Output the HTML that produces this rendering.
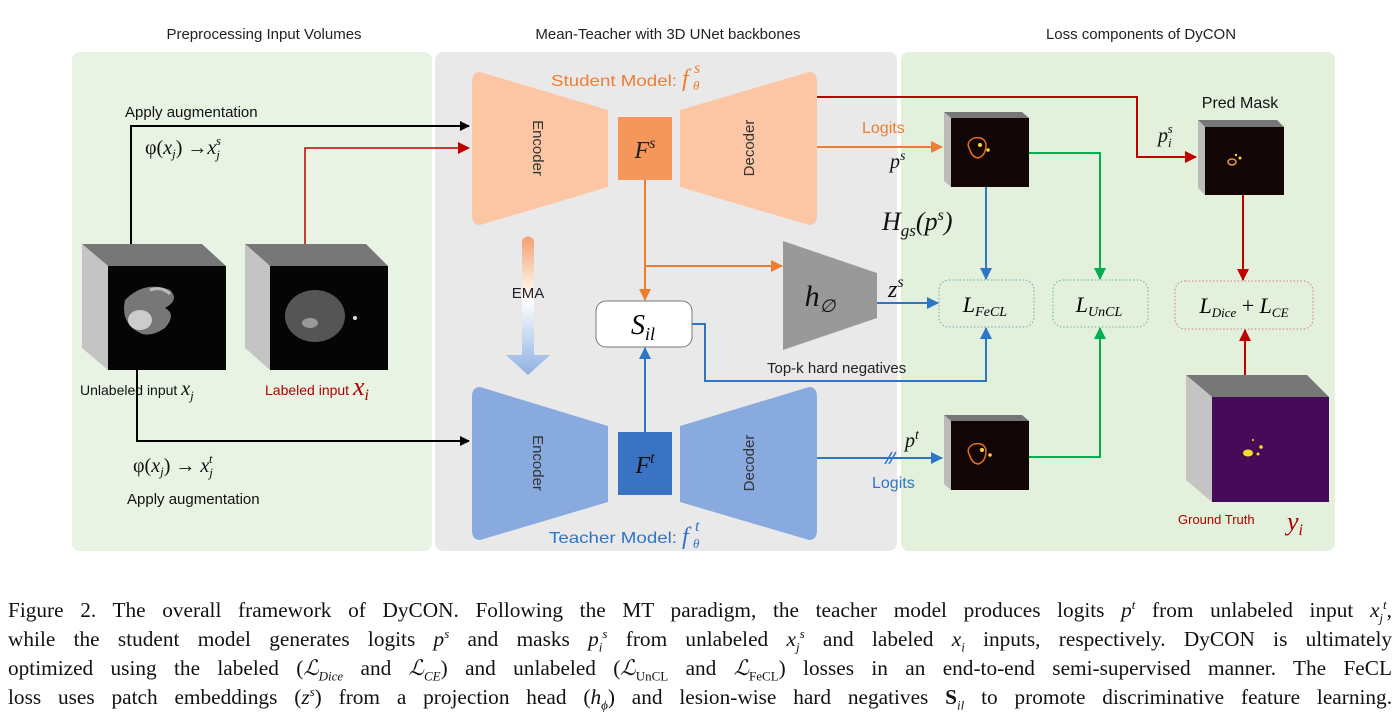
<!DOCTYPE html>
<html><head><meta charset="utf-8"><style>
body{margin:0;width:1400px;height:720px;background:#fff;overflow:hidden;font-family:"Liberation Sans",sans-serif}
.cap{position:absolute;left:8px;width:1384px;top:596px;font-family:"Liberation Serif",serif;font-size:21.3px;line-height:29px;text-align:justify;text-align-last:justify;color:#111}
.cap div{text-align:justify;text-align-last:justify}
i{font-style:italic}
.cap sup,.cap sub{font-size:13px;line-height:0}
</style></head><body>
<svg width="1400" height="590" style="position:absolute;left:0;top:0" font-family="Liberation Sans, sans-serif">
<defs>
<marker id="ak" markerWidth="10" markerHeight="10" refX="9" refY="5" orient="auto" markerUnits="userSpaceOnUse"><path d="M0,0 L10,5 L0,10z" fill="#000"/></marker>
<marker id="ar" markerWidth="12" markerHeight="12" refX="11" refY="6" orient="auto" markerUnits="userSpaceOnUse"><path d="M0,0 L12,6 L0,12z" fill="#c00000"/></marker>
<marker id="ao" markerWidth="12" markerHeight="12" refX="11" refY="6" orient="auto" markerUnits="userSpaceOnUse"><path d="M0,0 L12,6 L0,12z" fill="#ed7d31"/></marker>
<marker id="ab" markerWidth="12" markerHeight="12" refX="11" refY="6" orient="auto" markerUnits="userSpaceOnUse"><path d="M0,0 L12,6 L0,12z" fill="#2e75c6"/></marker>
<marker id="ag" markerWidth="12" markerHeight="12" refX="11" refY="6" orient="auto" markerUnits="userSpaceOnUse"><path d="M0,0 L12,6 L0,12z" fill="#00b050"/></marker>
<linearGradient id="ema" x1="0" y1="0" x2="0" y2="1"><stop offset="0" stop-color="#f4a070"/><stop offset="0.45" stop-color="#fff"/><stop offset="1" stop-color="#8eb0e0"/></linearGradient>
</defs>
<rect x="72" y="52" width="360" height="499" rx="8" fill="#e9f3e4"/>
<rect x="435" y="52" width="462" height="499" rx="8" fill="#e9e9e9"/>
<rect x="901" y="52" width="434" height="499" rx="8" fill="#e2f0dc"/>
<text x="264" y="39" font-size="15" text-anchor="middle" fill="#222">Preprocessing Input Volumes</text>
<text x="668" y="39" font-size="15" text-anchor="middle" fill="#222">Mean-Teacher with 3D UNet backbones</text>
<text x="1141" y="39" font-size="15" text-anchor="middle" fill="#222">Loss components of DyCON</text>

<!-- student -->
<path d="M480,72 L608,110 L608,187 L480,225 Q472,225 472,215 L472,82 Q472,72 480,72z" fill="#fcc6a4"/>
<path d="M809,72 L680,110 L680,187 L809,225 Q817,225 817,215 L817,82 Q817,72 809,72z" fill="#fcc6a4"/>
<rect x="618" y="117" width="54" height="63" fill="#f5965a"/>
<text x="645" y="158" font-size="24" font-family="Liberation Serif,serif" font-style="italic" text-anchor="middle" fill="#222">F<tspan font-size="16" dy="-10">s</tspan></text>
<text transform="translate(533,148) rotate(90)" font-size="15" text-anchor="middle" fill="#333">Encoder</text>
<text transform="translate(754,148) rotate(-90)" font-size="15" text-anchor="middle" fill="#333">Decoder</text>
<text x="551" y="86" font-size="16" fill="#ed7d31" textLength="126" lengthAdjust="spacingAndGlyphs">Student Model:</text>
<text x="682" y="86" font-size="24" font-family="Liberation Serif,serif" font-style="italic" fill="#ed7d31">f</text>
<text x="693" y="90" font-size="13" font-family="Liberation Serif,serif" font-style="italic" fill="#ed7d31">θ</text>
<text x="694" y="73" font-size="16" font-family="Liberation Serif,serif" font-style="italic" fill="#ed7d31">s</text>
<!-- teacher -->
<path d="M480,387 L608,426 L608,502 L480,540 Q472,540 472,530 L472,397 Q472,387 480,387z" fill="#88aadf"/>
<path d="M809,387 L680,426 L680,502 L809,540 Q817,540 817,530 L817,397 Q817,387 809,387z" fill="#88aadf"/>
<rect x="618" y="432" width="54" height="63" fill="#3a72c4"/>
<text x="645" y="473" font-size="24" font-family="Liberation Serif,serif" font-style="italic" text-anchor="middle" fill="#111">F<tspan font-size="16" dy="-10">t</tspan></text>
<text transform="translate(533,463) rotate(90)" font-size="15" text-anchor="middle" fill="#333">Encoder</text>
<text transform="translate(754,463) rotate(-90)" font-size="15" text-anchor="middle" fill="#333">Decoder</text>
<text x="549" y="543" font-size="16" fill="#2e75c6" textLength="128" lengthAdjust="spacingAndGlyphs">Teacher Model:</text>
<text x="682" y="544" font-size="24" font-family="Liberation Serif,serif" font-style="italic" fill="#2e75c6">f</text>
<text x="693" y="548" font-size="13" font-family="Liberation Serif,serif" font-style="italic" fill="#2e75c6">θ</text>
<text x="695" y="531" font-size="16" font-family="Liberation Serif,serif" font-style="italic" fill="#2e75c6">t</text>
<!-- EMA -->
<path d="M522,240 Q528,233 534,240 L534,355 L550,355 L528,375 L506,355 L522,355z" fill="url(#ema)"/>
<text x="528" y="298" font-size="15" text-anchor="middle" fill="#222">EMA</text>
<!-- S_il -->
<rect x="596" y="301" width="96" height="46" rx="10" fill="#fff" stroke="#777"/>
<text x="643" y="334" font-size="28" font-family="Liberation Serif,serif" font-style="italic" text-anchor="middle">S<tspan font-size="18" dy="6">il</tspan></text>
<!-- h_phi -->
<path d="M783,241 L877,273 L877,318 L783,350z" fill="#999"/>
<text x="820" y="306" font-size="30" font-family="Liberation Serif,serif" font-style="italic" text-anchor="middle" fill="#111">h<tspan font-size="18" dy="6">∅</tspan></text>
<!-- connectors middle -->
<path d="M645,180 L645,300" stroke="#ed7d31" stroke-width="2" fill="none" marker-end="url(#ao)"/>
<path d="M645,266 L782,266" stroke="#ed7d31" stroke-width="2" fill="none" marker-end="url(#ao)"/>
<path d="M645,432 L645,348" stroke="#2e75c6" stroke-width="2" fill="none" marker-end="url(#ab)"/>
<path d="M692,324 L705,324 L705,381 L986,381 L986,328" stroke="#2e75c6" stroke-width="2" fill="none" marker-end="url(#ab)"/>
<text x="767" y="373" font-size="15" fill="#222">Top-k hard negatives</text>
<path d="M877,303 L938,303" stroke="#2e75c6" stroke-width="2" fill="none" marker-end="url(#ab)"/>
<text x="888" y="297" font-size="24" font-family="Liberation Serif,serif" font-style="italic" fill="#111">z<tspan font-size="16" dy="-10">s</tspan></text>
<path d="M817,97 L1137,97 L1137,157 L1196,157" stroke="#c00000" stroke-width="2" fill="none" marker-end="url(#ar)"/>
<path d="M817,147 L942,147" stroke="#ed7d31" stroke-width="2" fill="none" marker-end="url(#ao)"/>
<text x="862" y="133" font-size="16" fill="#ed7d31">Logits</text>
<text x="890" y="168" font-size="20" font-family="Liberation Serif,serif" font-style="italic" fill="#111">p<tspan font-size="14" dy="-8">s</tspan></text>
<path d="M817,458 L942,458" stroke="#2e75c6" stroke-width="2" fill="none" marker-end="url(#ab)"/>
<path d="M885,464 L892,452 M889,464 L896,452" stroke="#2e75c6" stroke-width="1.5"/>
<text x="872" y="488" font-size="16" fill="#2e75c6">Logits</text>
<text x="905" y="447" font-size="20" font-family="Liberation Serif,serif" font-style="italic" fill="#111">p<tspan font-size="14" dy="-8">t</tspan></text>
<text x="882" y="230" font-size="26" font-family="Liberation Serif,serif" font-style="italic" fill="#111">H<tspan font-size="17" dy="6">gs</tspan><tspan dy="-6">(p<tspan font-size="16" dy="-10">s</tspan><tspan dy="10">)</tspan></tspan></text>
<!-- output cubes -->
<g><path d="M944,112 L1022,112 L1029,118 L951,118z" fill="#777"/><path d="M944,112 L951,118 L951,187 L944,181z" fill="#bbb"/><rect x="951" y="118" width="78" height="69" fill="#110505"/>
<path d="M970,150 q-5,-8 4,-12 q10,-2 12,6 q0,12 -8,14 q-6,-1 -8,-8z" stroke="#e07020" fill="none" stroke-width="1.5"/><circle cx="980" cy="145" r="2" fill="#ffd040"/><circle cx="988" cy="150" r="1.8" fill="#ffd040"/></g>
<g><path d="M944,415 L1022,415 L1029,421 L951,421z" fill="#777"/><path d="M944,415 L951,421 L951,490 L944,484z" fill="#bbb"/><rect x="951" y="421" width="78" height="69" fill="#110505"/>
<path d="M970,456 q-5,-8 4,-12 q10,-2 12,6 q0,12 -8,14 q-6,-1 -8,-8z" stroke="#e07020" fill="none" stroke-width="1.5"/><circle cx="982" cy="450" r="2" fill="#ffd040"/><circle cx="990" cy="455" r="1.8" fill="#ffd040"/></g>
<g><path d="M1198,120 L1277,120 L1284,127 L1205,127z" fill="#777"/><path d="M1198,120 L1205,127 L1205,195 L1198,188z" fill="#bbb"/><rect x="1205" y="127" width="79" height="68" fill="#110505"/>
<ellipse cx="1232" cy="162" rx="4" ry="3" stroke="#f0a030" fill="none" stroke-width="1.5"/><circle cx="1240" cy="158" r="1.5" fill="#ffd040"/><circle cx="1236" cy="155" r="1.2" fill="#ffd040"/></g>
<text x="1240" y="108" font-size="16" text-anchor="middle" fill="#111">Pred Mask</text>
<text x="1158" y="142" font-size="20" font-family="Liberation Serif,serif" font-style="italic" fill="#111">p<tspan font-size="13" dy="5">i</tspan><tspan font-size="13" dx="-4" dy="-14">s</tspan></text>
<g><path d="M1186,375 L1307,375 L1329,397 L1212,397z" fill="#777"/><path d="M1186,375 L1212,397 L1212,502 L1186,480z" fill="#c4c4c4"/><rect x="1212" y="397" width="117" height="105" fill="#450a58"/>
<ellipse cx="1248" cy="453" rx="5" ry="3.5" fill="#f5e020"/><circle cx="1261" cy="447" r="1.8" fill="#f5e020"/><circle cx="1258" cy="454" r="1.5" fill="#f5e020"/><circle cx="1253" cy="440" r="1" fill="#f5e020"/></g>
<text x="1178" y="524" font-size="13" fill="#b00000">Ground Truth</text>
<text x="1287" y="530" font-size="26" font-family="Liberation Serif,serif" font-style="italic" fill="#b00000">y<tspan font-size="16" dy="5">i</tspan></text>
<!-- losses -->
<rect x="939" y="280" width="95" height="47" rx="10" fill="none" stroke="#6aa8b8" stroke-dasharray="1.5,2"/>
<text x="985" y="312" font-size="22" font-family="Liberation Serif,serif" font-style="italic" text-anchor="middle">L<tspan font-size="14" dy="4">FeCL</tspan></text>
<rect x="1053" y="280" width="95" height="47" rx="10" fill="none" stroke="#6ab88a" stroke-dasharray="1.5,2"/>
<text x="1099" y="312" font-size="22" font-family="Liberation Serif,serif" font-style="italic" text-anchor="middle">L<tspan font-size="14" dy="4">UnCL</tspan></text>
<rect x="1175" y="281" width="138" height="48" rx="10" fill="none" stroke="#d08080" stroke-dasharray="1.5,2"/>
<text x="1244" y="313" font-size="22" font-family="Liberation Serif,serif" font-style="italic" text-anchor="middle">L<tspan font-size="13" dy="4">Dice</tspan><tspan dy="-4" font-style="normal"> + </tspan>L<tspan font-size="13" dy="4">CE</tspan></text>
<path d="M986,187 L986,279" stroke="#2e75c6" stroke-width="2" fill="none" marker-end="url(#ab)"/>
<path d="M1029,153 L1100,153 L1100,279" stroke="#00b050" stroke-width="2" fill="none" marker-end="url(#ag)"/>
<path d="M1029,457 L1100,457 L1100,328" stroke="#00b050" stroke-width="2" fill="none" marker-end="url(#ag)"/>
<path d="M1243,195 L1243,280" stroke="#c00000" stroke-width="2" fill="none" marker-end="url(#ar)"/>
<path d="M1245,375 L1245,330" stroke="#c00000" stroke-width="2" fill="none" marker-end="url(#ar)"/>
<!-- left cubes -->
<g><path d="M82,244 L202,244 L226,266 L108,266z" fill="#777"/><path d="M82,244 L108,266 L108,370 L82,348z" fill="#c4c4c4"/><rect x="108" y="266" width="118" height="104" fill="#050505"/>
<path d="M125,300 q20,-20 45,-10 q10,10 -5,18 q12,6 0,20 q-15,10 -25,5 q-20,-10 -15,-33z" fill="#777"/><ellipse cx="140" cy="320" rx="12" ry="10" fill="#ccc"/><path d="M150,290 q12,-4 20,4" stroke="#bbb" stroke-width="3" fill="none"/></g>
<g><path d="M245,244 L366,244 L388,266 L270,266z" fill="#777"/><path d="M245,244 L270,266 L270,370 L245,348z" fill="#c4c4c4"/><rect x="270" y="266" width="118" height="104" fill="#050505"/>
<ellipse cx="315" cy="316" rx="30" ry="26" fill="#555"/><ellipse cx="310" cy="323" rx="8" ry="5" fill="#999"/><circle cx="355" cy="318" r="2" fill="#ddd"/></g>
<text x="80" y="395" font-size="14" fill="#111">Unlabeled input <tspan font-family="Liberation Serif,serif" font-style="italic" font-size="20">x<tspan font-size="13" dy="5">j</tspan></tspan></text>
<text x="265" y="395" font-size="14" fill="#b00000">Labeled input <tspan font-family="Liberation Serif,serif" font-style="italic" font-size="26">x<tspan font-size="16" dy="5">i</tspan></tspan></text>
<path d="M131,244 L131,126 L469,126" stroke="#000" stroke-width="2" fill="none" marker-end="url(#ak)"/>
<path d="M305,244 L305,148 L469,148" stroke="#c00000" stroke-width="1.5" fill="none" marker-end="url(#ar)"/>
<path d="M137,370 L137,441 L469,441" stroke="#000" stroke-width="2" fill="none" marker-end="url(#ak)"/>
<text x="125" y="117" font-size="15" fill="#111">Apply augmentation</text>
<text x="127" y="504" font-size="15" fill="#111">Apply augmentation</text>
<text x="145" y="154" font-size="20" font-family="Liberation Serif,serif" fill="#111">φ(<tspan font-style="italic">x<tspan font-size="13" dy="4">j</tspan></tspan><tspan dy="-4">) →</tspan><tspan font-style="italic">x<tspan font-size="13" dy="5">j</tspan><tspan font-size="13" dx="-4" dy="-14">s</tspan></tspan></text>
<text x="133" y="472" font-size="20" font-family="Liberation Serif,serif" fill="#111">φ(<tspan font-style="italic">x<tspan font-size="13" dy="4">j</tspan></tspan><tspan dy="-4">) → </tspan><tspan font-style="italic">x<tspan font-size="13" dy="5">j</tspan><tspan font-size="13" dx="-4" dy="-14">t</tspan></tspan></text>
</svg>
<div class="cap">
<div>Figure 2. The overall framework of DyCON. Following the MT paradigm, the teacher model produces logits <i>p<sup>t</sup></i> from unlabeled input <i>x<sub>j</sub><sup>t</sup></i>,</div>
<div>while the student model generates logits <i>p<sup>s</sup></i> and masks <i>p<sub>i</sub><sup>s</sup></i> from unlabeled <i>x<sub>j</sub><sup>s</sup></i> and labeled <i>x<sub>i</sub></i> inputs, respectively. DyCON is ultimately</div>
<div>optimized using the labeled (<i>ℒ<sub>Dice</sub></i> and <i>ℒ<sub>CE</sub></i>) and unlabeled (<i>ℒ</i><sub>UnCL</sub> and <i>ℒ</i><sub>FeCL</sub>) losses in an end-to-end semi-supervised manner. The FeCL</div>
<div>loss uses patch embeddings (<i>z<sup>s</sup></i>) from a projection head (<i>h<sub>ϕ</sub></i>) and lesion-wise hard negatives <b>S</b><sub><i>il</i></sub> to promote discriminative feature learning.</div>
</div>
</body></html>
